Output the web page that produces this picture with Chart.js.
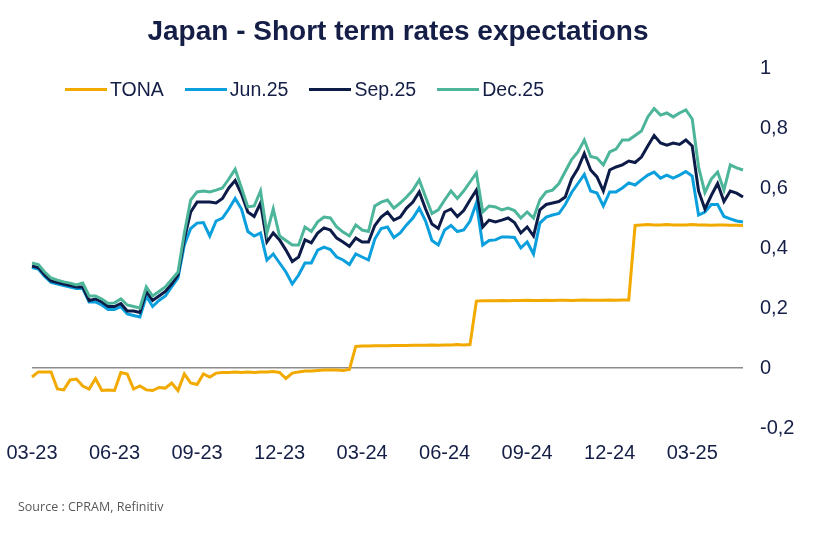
<!DOCTYPE html>
<html>
<head>
<meta charset="utf-8">
<script src="https://cdn.jsdelivr.net/npm/chart.js@4.4.1/dist/chart.umd.min.js"></script>
<style>
  html, body { margin: 0; padding: 0; background: #fff; }
  #wrap { position: relative; width: 820px; height: 545px; overflow: hidden; font-family: "Liberation Sans", Arial, sans-serif; color: #141e46; }
  #title { position: absolute; left: 0; width: 796px; top: 15px; text-align: center; font-size: 28px; font-weight: bold; line-height: 32px; }
  #legend { position: absolute; left: 65px; top: 78px; display: flex; gap: 21px; font-size: 19.5px; line-height: 22px; }
  .item { display: flex; align-items: center; }
  .swatch { width: 42px; height: 3px; margin-right: 3px; }
  #source { position: absolute; left: 18px; top: 498px; font-family: "Open Sans", sans-serif; font-size: 12.5px; color: #595959; }
  canvas { position: absolute; left: 0; top: 0; }
</style>
</head>
<body>
<div id="wrap">
  <canvas id="chart" width="820" height="545"></canvas>
  <div id="title">Japan - Short term rates expectations</div>
  <div id="legend"></div>
  <div id="source">Source : CPRAM, Refinitiv</div>
</div>
<script>
// weekly observations, first week of March 2023 to mid May 2025
const tickLabels = ["03-23", "06-23", "09-23", "12-23", "03-24", "06-24", "09-24", "12-24", "03-25"];
const weeksPerQuarter = 13;

const tona = [
  -0.03, -0.013, -0.013, -0.013, -0.07, -0.073, -0.04, -0.037, -0.06, -0.07,
  -0.035, -0.075, -0.073, -0.075, -0.015, -0.02, -0.07, -0.06, -0.073, -0.075,
  -0.065, -0.067, -0.05, -0.075, -0.02, -0.05, -0.055, -0.02, -0.03, -0.017,
  -0.015, -0.015, -0.013, -0.015, -0.013, -0.015, -0.013, -0.013, -0.012, -0.015,
  -0.035, -0.017, -0.013, -0.01, -0.01, -0.008, -0.007, -0.007, -0.007, -0.008,
  -0.005,
  0.072, 0.073, 0.073, 0.074, 0.074, 0.074, 0.075, 0.075, 0.075, 0.076,
  0.076, 0.076, 0.077, 0.076, 0.077, 0.077, 0.078, 0.077, 0.078,
  0.223, 0.224, 0.224, 0.224, 0.225, 0.224, 0.225, 0.225, 0.226, 0.225,
  0.225, 0.226, 0.225, 0.226, 0.226, 0.225, 0.226, 0.227, 0.226, 0.226,
  0.226, 0.227, 0.226, 0.227, 0.227,
  0.475, 0.477, 0.478, 0.477, 0.477, 0.478, 0.477, 0.477, 0.477, 0.478,
  0.477, 0.477, 0.476, 0.477, 0.477, 0.476, 0.476, 0.475
];

const jun25 = [
  0.335, 0.33, 0.305, 0.285, 0.28, 0.275, 0.27, 0.265, 0.265, 0.22,
  0.22, 0.21, 0.195, 0.195, 0.205, 0.18, 0.175, 0.17, 0.24, 0.205,
  0.225, 0.24, 0.27, 0.30, 0.41, 0.465, 0.483, 0.485, 0.44, 0.49,
  0.50, 0.53, 0.565, 0.53, 0.455, 0.44, 0.45, 0.36, 0.38, 0.35,
  0.32, 0.28, 0.31, 0.35, 0.35, 0.393, 0.403, 0.395, 0.37, 0.36,
  0.345, 0.38, 0.37, 0.36, 0.43, 0.465, 0.47, 0.435, 0.45, 0.477,
  0.50, 0.533, 0.49, 0.425, 0.41, 0.46, 0.475, 0.455, 0.46, 0.49,
  0.55, 0.41, 0.425, 0.427, 0.437, 0.437, 0.435, 0.40, 0.42, 0.38,
  0.483, 0.503, 0.51, 0.515, 0.545, 0.585, 0.615, 0.645, 0.59, 0.583,
  0.54, 0.587, 0.587, 0.60, 0.617, 0.61, 0.627, 0.643, 0.653, 0.633,
  0.643, 0.633, 0.643, 0.655, 0.64, 0.51, 0.52, 0.545, 0.545, 0.505,
  0.497, 0.49, 0.487
];

const sep25 = [
  0.34, 0.335, 0.31, 0.29, 0.285, 0.28, 0.275, 0.27, 0.27, 0.225,
  0.23, 0.22, 0.205, 0.205, 0.215, 0.19, 0.19, 0.185, 0.255, 0.225,
  0.24, 0.255, 0.28, 0.31, 0.43, 0.52, 0.553, 0.553, 0.553, 0.55,
  0.565, 0.60, 0.625, 0.58, 0.52, 0.505, 0.55, 0.42, 0.45, 0.427,
  0.393, 0.355, 0.37, 0.427, 0.417, 0.45, 0.467, 0.46, 0.433, 0.42,
  0.405, 0.433, 0.42, 0.42, 0.475, 0.503, 0.52, 0.493, 0.503, 0.533,
  0.553, 0.587, 0.53, 0.48, 0.465, 0.52, 0.53, 0.505, 0.525, 0.56,
  0.593, 0.47, 0.493, 0.487, 0.493, 0.50, 0.485, 0.45, 0.47, 0.44,
  0.527, 0.545, 0.55, 0.555, 0.57, 0.63, 0.665, 0.715, 0.66, 0.637,
  0.59, 0.66, 0.67, 0.677, 0.69, 0.685, 0.703, 0.74, 0.775, 0.75,
  0.743, 0.75, 0.745, 0.76, 0.74, 0.59, 0.53, 0.575, 0.615, 0.555,
  0.59, 0.583, 0.57
];

const dec25 = [
  0.35, 0.345, 0.32, 0.30, 0.293, 0.287, 0.283, 0.277, 0.283, 0.24,
  0.24, 0.23, 0.215, 0.217, 0.23, 0.21, 0.205, 0.20, 0.27, 0.24,
  0.255, 0.27, 0.295, 0.32, 0.45, 0.56, 0.587, 0.59, 0.587, 0.593,
  0.60, 0.63, 0.663, 0.60, 0.537, 0.54, 0.59, 0.45, 0.53, 0.44,
  0.425, 0.41, 0.41, 0.47, 0.455, 0.487, 0.503, 0.50, 0.47, 0.453,
  0.44, 0.477, 0.46, 0.455, 0.54, 0.553, 0.56, 0.533, 0.55, 0.57,
  0.593, 0.627, 0.57, 0.515, 0.527, 0.56, 0.59, 0.565, 0.59, 0.62,
  0.65, 0.52, 0.54, 0.537, 0.527, 0.533, 0.525, 0.50, 0.52, 0.50,
  0.56, 0.587, 0.593, 0.615, 0.655, 0.695, 0.72, 0.76, 0.705, 0.70,
  0.677, 0.72, 0.73, 0.76, 0.76, 0.775, 0.79, 0.837, 0.865, 0.843,
  0.85, 0.837, 0.85, 0.86, 0.83, 0.67, 0.585, 0.63, 0.653, 0.593,
  0.677, 0.667, 0.66
];

// week start dates used as categories
const start = new Date(2023, 2, 1);
const weeks = tona.map((v, i) => {
  const d = new Date(start.getTime() + i * 7 * 86400000);
  return d.toISOString().slice(0, 10);
});

const series = [
  { label: "TONA", data: tona, color: "#f2a900" },
  { label: "Jun.25", data: jun25, color: "#0ba0dd" },
  { label: "Sep.25", data: sep25, color: "#0d1b48" },
  { label: "Dec.25", data: dec25, color: "#4cb59a" }
];

// html legend
const legendEl = document.getElementById("legend");
series.forEach(s => {
  const item = document.createElement("div");
  item.className = "item";
  item.innerHTML = '<span class="swatch" style="background:' + s.color + '"></span><span>' + s.label + '</span>';
  legendEl.appendChild(item);
});

// TONA on top, then Dec, Sep, Jun underneath
const drawOrder = { "TONA": 0, "Dec.25": 1, "Sep.25": 2, "Jun.25": 3 };

new Chart(document.getElementById("chart"), {
  type: "line",
  data: {
    labels: weeks,
    datasets: series.map(s => ({
      label: s.label,
      data: s.data,
      borderColor: s.color,
      backgroundColor: s.color,
      borderWidth: 3,
      pointRadius: 0,
      tension: 0,
      order: drawOrder[s.label]
    }))
  },
  options: {
    responsive: false,
    animation: false,
    devicePixelRatio: 1,
    layout: { padding: { left: 32, right: 0, top: 68, bottom: 77 } },
    plugins: { legend: { display: false }, tooltip: { enabled: false } },
    scales: {
      x: {
        grid: { display: false },
        border: { display: false },
        ticks: {
          autoSkip: false,
          maxRotation: 0,
          padding: 5,
          color: "#141e46",
          font: { family: "Liberation Sans", size: 20 },
          callback: (val, i) => i % weeksPerQuarter === 0 ? tickLabels[i / weeksPerQuarter] : null
        },
        afterFit: s => { s.height = 40; }
      },
      y: {
        position: "right",
        min: -0.2,
        max: 1,
        border: { display: false },
        grid: {
          drawTicks: false,
          lineWidth: 1.5,
          color: ctx => Math.abs(ctx.tick.value) < 1e-9 ? "#8c8c8c" : "rgba(0,0,0,0)"
        },
        ticks: {
          stepSize: 0.2,
          padding: 17,
          color: "#141e46",
          font: { family: "Liberation Sans", size: 20 },
          callback: v => String(Number(v.toFixed(1))).replace(".", ",")
        },
        afterFit: s => { s.width = 77; }
      }
    }
  }
});
</script>
</body>
</html>
